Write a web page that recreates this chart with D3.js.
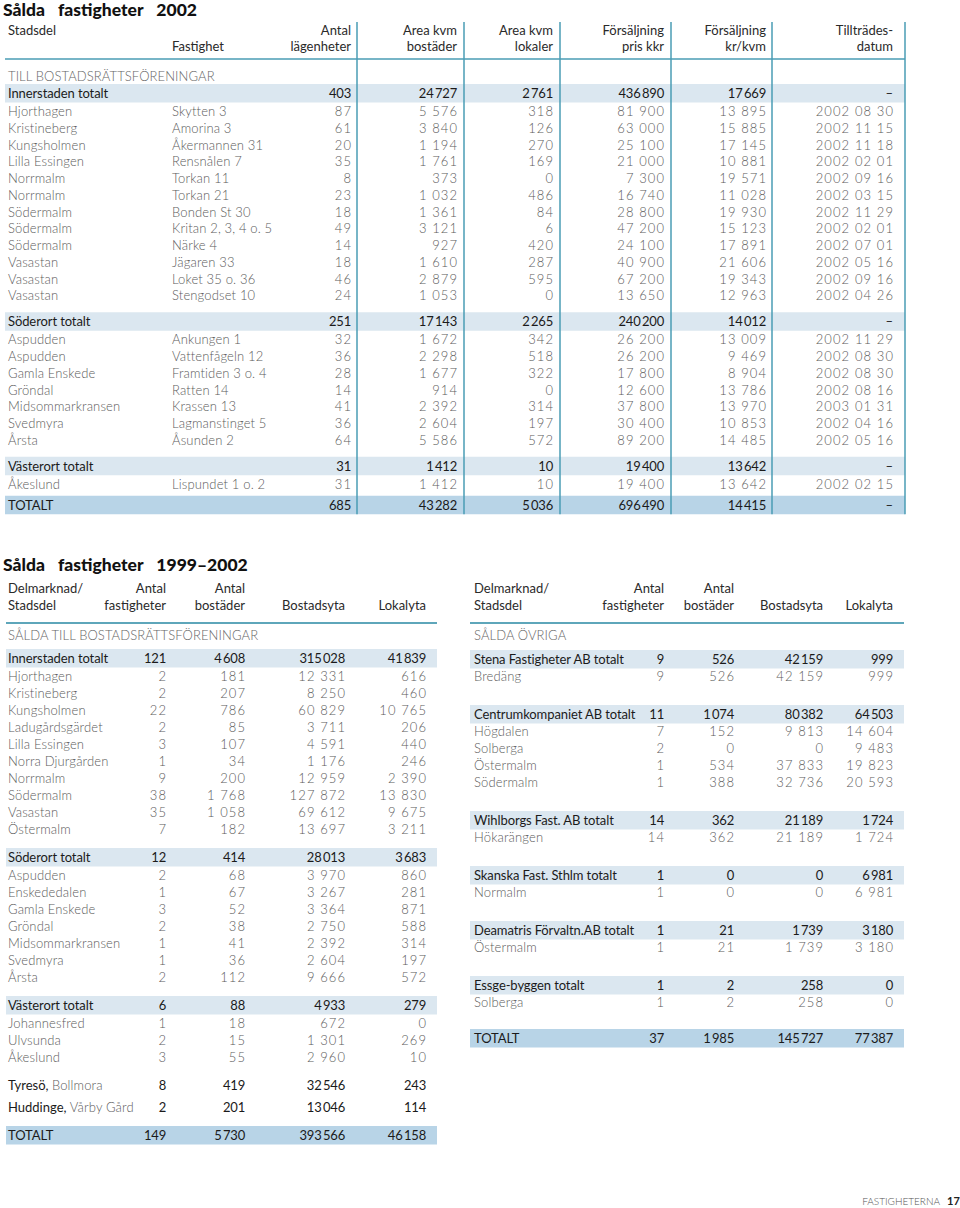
<!DOCTYPE html>
<html>
<head>
<meta charset="utf-8">
<script src="https://cdn.jsdelivr.net/npm/d3@7"></script>
<style>
body { margin: 0; background: #fff; }
svg { display: block; }
text { font-family: Lato, "Open Sans", sans-serif; }
</style>
</head>
<body>
<script>
// ---- Sålda fastigheter 2002 ----
var t1Sections = ["Innerstaden totalt", "Söderort totalt", "Västerort totalt"];
var t1Totals = [[403, 24727, 2761, 436890, 17669],
				[251, 17143, 2265, 240200, 14012],
				[31, 1412, 10, 19400, 13642]];
var innerRows = [
	["Hjorthagen", "Skytten 3", 87, 5576, 318, 81900, 13895, "2002 08 30"],
	["Kristineberg", "Amorina 3", 61, 3840, 126, 63000, 15885, "2002 11 15"],
	["Kungsholmen", "Åkermannen 31", 20, 1194, 270, 25100, 17145, "2002 11 18"],
	["Lilla Essingen", "Rensnålen 7", 35, 1761, 169, 21000, 10881, "2002 02 01"],
	["Norrmalm", "Torkan 11", 8, 373, 0, 7300, 19571, "2002 09 16"],
	["Norrmalm", "Torkan 21", 23, 1032, 486, 16740, 11028, "2002 03 15"],
	["Södermalm", "Bonden St 30", 18, 1361, 84, 28800, 19930, "2002 11 29"],
	["Södermalm", "Kritan 2, 3, 4 o. 5", 49, 3121, 6, 47200, 15123, "2002 02 01"],
	["Södermalm", "Närke 4", 14, 927, 420, 24100, 17891, "2002 07 01"],
	["Vasastan", "Jägaren 33", 18, 1610, 287, 40900, 21606, "2002 05 16"],
	["Vasastan", "Loket 35 o. 36", 46, 2879, 595, 67200, 19343, "2002 09 16"],
	["Vasastan", "Stengodset 10", 24, 1053, 0, 13650, 12963, "2002 04 26"]
];
var soderRows = [
	["Aspudden", "Ankungen 1", 32, 1672, 342, 26200, 13009, "2002 11 29"],
	["Aspudden", "Vattenfågeln 12", 36, 2298, 518, 26200, 9469, "2002 08 30"],
	["Gamla Enskede", "Framtiden 3 o. 4", 28, 1677, 322, 17800, 8904, "2002 08 30"],
	["Gröndal", "Ratten 14", 14, 914, 0, 12600, 13786, "2002 08 16"],
	["Midsommarkransen", "Krassen 13", 41, 2392, 314, 37800, 13970, "2003 01 31"],
	["Svedmyra", "Lagmanstinget 5", 36, 2604, 197, 30400, 10853, "2002 04 16"],
	["Årsta", "Åsunden 2", 64, 5586, 572, 89200, 14485, "2002 05 16"]
];
var vasterRows = [
	["Åkeslund", "Lispundet 1 o. 2", 31, 1412, 10, 19400, 13642, "2002 02 15"]
];
var t1Grand = [685, 43282, 5036, 696490, 14415];
var t1Head1 = ["Stadsdel", "", "Antal", "Area kvm", "Area kvm", "Försäljning", "Försäljning", "Tillträdes-"];
var t1Head2 = ["", "Fastighet", "lägenheter", "bostäder", "lokaler", "pris kkr", "kr/kvm", "datum"];

// ---- Sålda fastigheter 1999–2002, till bostadsrättsföreningar ----
var t2Sections = ["Innerstaden totalt", "Söderort totalt", "Västerort totalt"];
var t2Totals = [[121, 4608, 315028, 41839], [12, 414, 28013, 3683], [6, 88, 4933, 279]];
var t2Inner = [
	["Hjorthagen", 2, 181, 12331, 616],
	["Kristineberg", 2, 207, 8250, 460],
	["Kungsholmen", 22, 786, 60829, 10765],
	["Ladugårdsgärdet", 2, 85, 3711, 206],
	["Lilla Essingen", 3, 107, 4591, 440],
	["Norra Djurgården", 1, 34, 1176, 246],
	["Norrmalm", 9, 200, 12959, 2390],
	["Södermalm", 38, 1768, 127872, 13830],
	["Vasastan", 35, 1058, 69612, 9675],
	["Östermalm", 7, 182, 13697, 3211]
];
var t2Soder = [
	["Aspudden", 2, 68, 3970, 860],
	["Enskededalen", 1, 67, 3267, 281],
	["Gamla Enskede", 3, 52, 3364, 871],
	["Gröndal", 2, 38, 2750, 588],
	["Midsommarkransen", 1, 41, 2392, 314],
	["Svedmyra", 1, 36, 2604, 197],
	["Årsta", 2, 112, 9666, 572]
];
var t2Vaster = [
	["Johannesfred", 1, 18, 672, 0],
	["Ulvsunda", 2, 15, 1301, 269],
	["Åkeslund", 3, 55, 2960, 10]
];
var t2Other = [["Tyresö", "Bollmora", 8, 419, 32546, 243],
			   ["Huddinge", "Vårby Gård", 2, 201, 13046, 114]];
var t2Grand = [149, 5730, 393566, 46158];

// ---- Sålda övriga ----
var t3Groups = ["Stena Fastigheter AB totalt", "Centrumkompaniet AB totalt", "Wihlborgs Fast. AB totalt",
				"Skanska Fast. Sthlm totalt", "Deamatris Förvaltn.AB totalt", "Essge-byggen totalt"];
var t3Totals = [[9, 526, 42159, 999], [11, 1074, 80382, 64503], [14, 362, 21189, 1724],
				[1, 0, 0, 6981], [1, 21, 1739, 3180], [1, 2, 258, 0]];
var t3Rows = [
	[["Bredäng", 9, 526, 42159, 999]],
	[["Högdalen", 7, 152, 9813, 14604], ["Solberga", 2, 0, 0, 9483],
	 ["Östermalm", 1, 534, 37833, 19823], ["Södermalm", 1, 388, 32736, 20593]],
	[["Hökarängen", 14, 362, 21189, 1724]],
	[["Normalm", 1, 0, 0, 6981]],
	[["Östermalm", 1, 21, 1739, 3180]],
	[["Solberga", 1, 2, 258, 0]]
];
var t3Grand = [37, 1985, 145727, 77387];
var t2Head1 = ["Delmarknad/", "Antal", "Antal", "", ""];
var t2Head2 = ["Stadsdel", "fastigheter", "bostäder", "Bostadsyta", "Lokalyta"];

var width = 960,
	height = 1208;

var LIGHT = "#5c5c5c", DARK = "#1b1b1b", BAND = "#dbe7f0", BAND2 = "#b8d4e7", RULE = "#4a9db5";
var NUM_LS = 1.1;

var fmtLoose = d3.formatLocale({decimal: ",", thousands: "\u00a0", grouping: [3], currency: ["", ""]}).format(",d");
var fmtTight = d3.formatLocale({decimal: ",", thousands: "\u2009", grouping: [3], currency: ["", ""]}).format(",d");

var svg = d3.select("body").append("svg")
	.attr("width", width)
	.attr("height", height);

// draws one row of cells; cells = [{x, anchor, text, num}]
function drawRow(g, y, cells, dark) {
	g.append("g").selectAll("text")
		.data(cells)
		.enter().append("text")
		.attr("x", function(d) { return d.x + (!dark && d.num && d.anchor == "end" ? NUM_LS : 0); })
		.attr("y", y)
		.attr("text-anchor", function(d) { return d.anchor; })
		.attr("font-size", 13)
		.attr("font-weight", dark ? 400 : 300)
		.attr("fill", dark ? DARK : LIGHT)
		.attr("letter-spacing", function(d) { return dark ? (d.num ? -0.2 : -0.1) : (d.num ? NUM_LS : 0.15); })
		.text(function(d) { return d.text; });
}

function band(g, x0, x1, y, color) {
	g.append("rect")
		.attr("x", x0).attr("y", y - 14)
		.attr("width", x1 - x0).attr("height", 18.5)
		.attr("fill", color);
}

function header(g, cols, line1, line2, y1, y2) {
	var keys = cols.domain();
	[[line1, y1], [line2, y2]].forEach(function(l) {
		g.append("g").selectAll("text")
			.data(keys.filter(function(k, i) { return l[0][i] != ""; }))
			.enter().append("text")
			.attr("x", function(k) { return cols(k); })
			.attr("y", l[1])
			.attr("text-anchor", function(k) { return cols.anchor(k); })
			.attr("font-size", 13)
			.attr("fill", "#2a2a2a")
			.text(function(k) { return l[0][keys.indexOf(k)]; });
	});
}

function title(x, y, s) {
	svg.append("text")
		.attr("x", x).attr("y", y)
		.attr("font-size", 17.5)
		.attr("font-weight", 900)
		.attr("fill", "#111")
		.style("word-spacing", "9px")
		.text(s);
}

function label(g, x, y, s) {
	g.append("text").attr("x", x).attr("y", y)
		.attr("font-size", 13).attr("font-weight", 300)
		.attr("fill", "#666").attr("letter-spacing", 0.1)
		.text(s);
}

function ordinalCols(keys, xs, anchors) {
	var s = d3.scaleOrdinal().domain(keys).range(xs);
	var a = d3.scaleOrdinal().domain(keys).range(anchors);
	s.anchor = a;
	return s;
}

//
// Table 1
var g1 = svg.append("g");
var c1 = ordinalCols(["stad", "fast", "apt", "ares", "acom", "price", "pkvm", "date"],
	[8, 172, 351, 457, 553, 664, 766, 893],
	["start", "start", "end", "end", "end", "end", "end", "end"]);
var t1Left = 5, t1Right = 905;

title(3, 16, "Sålda fastigheter 2002");
header(g1, c1, t1Head1, t1Head2, 35, 51);
label(g1, 8, 81, "TILL BOSTADSRÄTTSFÖRENINGAR");

function t1TotalCells(name, v, fmt) {
	var keys = ["apt", "ares", "acom", "price", "pkvm"];
	var cells = [{x: c1("stad"), anchor: "start", text: name}];
	keys.forEach(function(k, i) { cells.push({x: c1(k), anchor: "end", text: fmt(v[i]), num: 1}); });
	cells.push({x: c1("date"), anchor: "end", text: "–"});
	return cells;
}

function t1RowCells(r) {
	var keys = c1.domain();
	return keys.map(function(k, i) {
		var v = r[i];
		return {x: c1(k), anchor: c1.anchor(k), text: typeof v == "number" ? fmtLoose(v) : v, num: i > 1};
	});
}

var t1Body = [innerRows, soderRows, vasterRows];
var y = 98;
for (var s = 0; s < t1Sections.length; s++) {
	if (s > 0) y += 26;
	band(g1, t1Left, t1Right, y, BAND);
	drawRow(g1, y, t1TotalCells(t1Sections[s], t1Totals[s], fmtTight), true);
	for (var i = 0; i < t1Body[s].length; i++) {
		y += (i == 0 ? 18 : 16.75);
		drawRow(g1, y, t1RowCells(t1Body[s][i]), false);
	}
}
y += 21;
band(g1, t1Left, t1Right, y, BAND2);
drawRow(g1, y, t1TotalCells("TOTALT", t1Grand, fmtTight), true);
var t1Bottom = y + 4.5;

// header rule and column rules
g1.append("line")
	.attr("x1", t1Left).attr("x2", t1Right)
	.attr("y1", 59).attr("y2", 59)
	.attr("stroke", RULE).attr("stroke-width", 1.5);
g1.append("g").selectAll("line")
	.data([357, 464, 560, 671, 772, 905])
	.enter().append("line")
	.attr("x1", function(d) { return d; })
	.attr("x2", function(d) { return d; })
	.attr("y1", 22).attr("y2", t1Bottom)
	.attr("stroke", RULE).attr("stroke-width", 1.5);

//
// Table 2
title(3, 571, "Sålda fastigheter 1999–2002");

function t2Cells(cols, name, v, fmt) {
	var keys = cols.domain();
	var cells = [{x: cols("name"), anchor: "start", text: name}];
	for (var i = 0; i < 4; i++) {
		cells.push({x: cols(keys[i + 1]), anchor: "end", text: fmt(v[i]), num: 1});
	}
	return cells;
}

function subTable(x0, x1, cols, sectionLabel) {
	var g = svg.append("g");
	header(g, cols, t2Head1, t2Head2, 593, 610);
	g.append("line")
		.attr("x1", x0).attr("x2", x1)
		.attr("y1", 623).attr("y2", 623)
		.attr("stroke", "#5ea6ba").attr("stroke-width", 2);
	label(g, cols("name"), 640, sectionLabel);
	return g;
}

// left part
var c2 = ordinalCols(["name", "fast", "bost", "byta", "lyta"], [8, 166, 245, 345, 426],
	["start", "end", "end", "end", "end"]);
var g2 = subTable(6, 437, c2, "SÅLDA TILL BOSTADSRÄTTSFÖRENINGAR");
var t2Body = [t2Inner, t2Soder, t2Vaster];
y = 663;
for (var s = 0; s < t2Sections.length; s++) {
	if (s > 0) y += 28;
	band(g2, 6, 437, y, BAND);
	drawRow(g2, y, t2Cells(c2, t2Sections[s], t2Totals[s], fmtTight), true);
	for (var i = 0; i < t2Body[s].length; i++) {
		y += (i == 0 ? 18 : 17);
		var r = t2Body[s][i];
		drawRow(g2, y, t2Cells(c2, r[0], r.slice(1), fmtLoose), false);
	}
}
for (var i = 0; i < t2Other.length; i++) {
	y += (i == 0 ? 28 : 22);
	var o = t2Other[i];
	var cells = t2Cells(c2, "", o.slice(2), fmtTight);
	cells.shift();
	drawRow(g2, y, cells, true);
	var nt = g2.append("text").attr("x", c2("name")).attr("y", y).attr("font-size", 13);
	nt.append("tspan").attr("fill", DARK).attr("font-weight", 400).text(o[0] + ", ");
	nt.append("tspan").attr("fill", LIGHT).attr("font-weight", 300).attr("letter-spacing", 0.15).text(o[1]);
}
y += 28;
band(g2, 6, 437, y, BAND2);
drawRow(g2, y, t2Cells(c2, "TOTALT", t2Grand, fmtTight), true);

// right part
var c3 = ordinalCols(["name", "fast", "bost", "byta", "lyta"], [474, 664, 734, 823, 893],
	["start", "end", "end", "end", "end"]);
var g3 = subTable(470, 904, c3, "SÅLDA ÖVRIGA");
y = 664;
for (var s = 0; s < t3Groups.length; s++) {
	if (s > 0) y += 38;
	band(g3, 470, 904, y, BAND);
	drawRow(g3, y, t2Cells(c3, t3Groups[s], t3Totals[s], fmtTight), true);
	for (var i = 0; i < t3Rows[s].length; i++) {
		y += 17;
		var r = t3Rows[s][i];
		drawRow(g3, y, t2Cells(c3, r[0], r.slice(1), fmtLoose), false);
	}
}
y += 36;
band(g3, 470, 904, y, BAND2);
drawRow(g3, y, t2Cells(c3, "TOTALT", t3Grand, fmtTight), true);

// page footer
svg.append("text")
	.attr("x", 940).attr("y", 1205)
	.attr("text-anchor", "end")
	.attr("font-size", 10).attr("font-weight", 300)
	.attr("fill", "#555")
	.text("FASTIGHETERNA");
svg.append("text")
	.attr("x", 947).attr("y", 1205)
	.attr("font-size", 11).attr("font-weight", 700)
	.attr("fill", "#222")
	.text("17");
</script>
</body>
</html>
